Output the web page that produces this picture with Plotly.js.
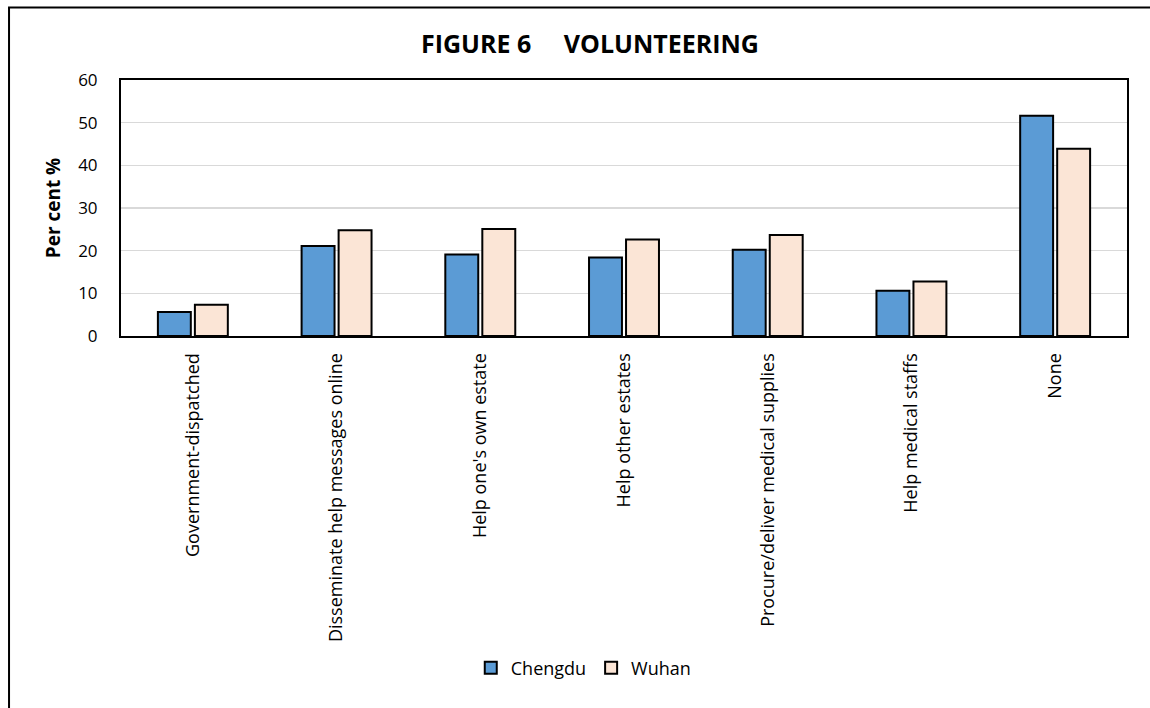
<!DOCTYPE html>
<html>
<head>
<meta charset="utf-8">
<script src="https://cdn.plot.ly/plotly-3.0.1.min.js"></script>
<style>html,body{margin:0;padding:0;background:#fff;}#chart{width:1150px;height:708px;}</style>
</head>
<body>
<div id="chart"></div>
<script>
const categories = ["Government-dispatched", "Disseminate help messages online", "Help one's own estate", "Help other estates", "Procure/deliver medical supplies", "Help medical staffs", "None"];
const chengdu = [5.6, 21.1, 19.1, 18.4, 20.2, 10.6, 51.6];
const wuhan = [7.3, 24.8, 25.1, 22.6, 23.7, 12.8, 43.9];
const yTicks = [0, 10, 20, 30, 40, 50, 60];

const font = "'Open Sans', 'DejaVu Sans', sans-serif";

const traces = [
  {type: 'bar', name: 'Chengdu', x: categories, y: chengdu,
   marker: {color: '#5B9BD5', line: {color: '#000000', width: 2}}},
  {type: 'bar', name: 'Wuhan', x: categories, y: wuhan,
   marker: {color: '#FBE5D6', line: {color: '#000000', width: 2}}}
];

const layout = {
  width: 1150, height: 708,
  margin: {l: 121, r: 23, t: 80, b: 372, pad: 0},
  paper_bgcolor: '#ffffff', plot_bgcolor: '#ffffff',
  font: {family: font, color: '#000000', size: 18},
  title: {text: '<b>FIGURE 6\u00A0\u00A0\u00A0\u00A0\u00A0VOLUNTEERING</b>', x: 0.513, xanchor: 'center', y: 0.938, yanchor: 'middle',
          font: {family: font, size: 25, color: '#000000'}},
  barmode: 'group', bargap: 0.485, bargroupgap: 0.11,
  showlegend: true,
  legend: {orientation: 'h', x: 0.46, xanchor: 'center', y: -1.297, yanchor: 'middle',
           font: {family: font, size: 18}, itemwidth: 30, traceorder: 'normal', itemclick: false},
  xaxis: {type: 'category', tickangle: -90, showline: true, mirror: true, linecolor: '#000000', linewidth: 2,
          ticks: '', showgrid: false, tickfont: {family: font, size: 18}, automargin: false, ticklabelstandoff: 8},
  yaxis: {range: [0, 60], tickvals: yTicks, ticktext: yTicks.map(String), showline: true, mirror: true,
          linecolor: '#000000', linewidth: 2, showgrid: true, gridcolor: '#D9D9D9', gridwidth: 1.5,
          zeroline: false, ticks: '', tickfont: {family: font, size: 17}, automargin: false, ticklabelstandoff: 18,
          title: {text: '<b>Per cent %</b>', font: {family: font, size: 19}, standoff: 12}},
  shapes: [
    {type: 'rect', xref: 'paper', yref: 'paper', x0: -0.1113, x1: 1.04, y0: -1.6, y1: 1.283,
     line: {color: '#000000', width: 2}, fillcolor: 'rgba(0,0,0,0)', layer: 'below'}
  ]
};

Plotly.newPlot('chart', traces, layout, {displayModeBar: false, staticPlot: true});
</script>
</body>
</html>
